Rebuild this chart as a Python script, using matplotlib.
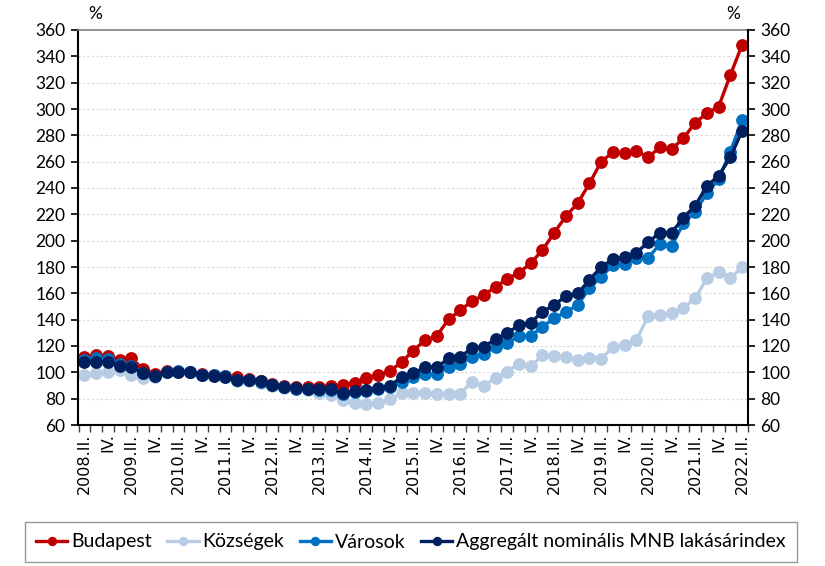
import matplotlib
matplotlib.use("Agg")
import matplotlib.pyplot as plt
from matplotlib.ticker import FixedLocator, NullFormatter

plt.rcParams['font.family'] = ['Lato', 'DejaVu Sans']

years = list(range(2008, 2023))
labels = []
for y in years:
    for q in ["I.", "II.", "III.", "IV."]:
        labels.append(f"{y}.{q}")
labels = labels[1:58]  # 2008.II. .. 2022.II.
tick_labels = [l if l.endswith(".II.") else ("IV." if l.endswith(".IV.") else "") for l in labels]

budapest = [111.9, 113.2, 112.4, 109.4, 110.6, 102.3, 99.0, 100.8, 100.5, 100.2, 98.5, 98.0, 97.4, 96.5,
            95.0, 93.5, 91.2, 89.6, 88.6, 88.6, 89.2, 89.8, 90.2, 92.2, 95.5, 98.0, 100.8, 107.8,
            116.5, 124.4, 127.6, 140.3, 147.0, 154.2, 158.5, 165.0, 170.9, 175.7, 182.8, 192.9, 206.0,
            218.7, 228.4, 243.5, 260.0, 267.1, 266.3, 268.3, 263.3, 270.9, 269.6, 277.7, 289.6, 296.7,
            301.8, 325.8, 348.8]
kozsegek = [98.3, 99.3, 100.3, 102.0, 98.0, 95.5, 96.2, 100.0, 100.2, 100.0, 97.8, 97.2, 96.5, 93.5,
            93.2, 92.0, 89.5, 87.8, 87.0, 86.5, 84.0, 83.0, 79.0, 76.5, 76.0, 77.0, 79.5, 84.0,
            84.5, 84.0, 83.8, 83.8, 83.8, 92.9, 89.8, 95.5, 100.5, 106.7, 104.5, 113.0, 112.4, 111.9,
            109.4, 111.2, 110.5, 119.0, 120.5, 124.5, 142.8, 143.5, 144.8, 149.1, 156.2, 171.4, 176.4,
            171.4, 180.0]
varosok = [109.5, 110.8, 110.0, 106.5, 105.0, 99.8, 97.4, 100.6, 100.9, 100.6, 97.9, 97.6, 97.0, 94.4,
           93.8, 92.9, 90.4, 89.0, 87.7, 87.1, 86.6, 86.7, 83.9, 85.2, 86.0, 87.5, 89.0, 92.9,
           96.7, 98.7, 98.7, 104.3, 106.3, 111.9, 113.9, 119.5, 122.0, 127.6, 127.6, 134.7, 141.0,
           146.0, 151.1, 163.8, 172.6, 181.5, 182.3, 187.1, 187.1, 197.2, 196.0, 213.1, 222.0, 236.0,
           246.8, 267.6, 291.6]
aggregalt = [107.5, 108.1, 107.5, 104.9, 103.8, 99.3, 97.2, 100.3, 100.5, 100.3, 97.8, 97.4, 96.8, 94.3,
             94.1, 93.1, 90.6, 89.1, 87.9, 87.6, 87.1, 87.2, 84.6, 85.5, 86.7, 88.2, 89.9,
             96.2, 99.3, 103.8, 103.8, 110.6, 111.9, 118.2, 119.5, 125.1, 129.6, 136.0, 137.7, 146.0,
             151.1, 158.0, 160.0, 170.1, 180.2, 185.8, 187.8, 190.9, 198.7, 206.1, 206.1, 217.4, 226.6,
             241.5, 249.3, 263.3, 283.5]

series_names = ["Budapest", "Községek", "Városok", "Aggregált nominális MNB lakásárindex"]
colors = ["#C00000", "#B8CCE4", "#0070C0", "#002060"]

x = list(range(len(labels)))

fig = plt.figure(figsize=(8.25, 5.66), dpi=100)
ax = fig.add_axes([78/825, 1-425/566, (748-78)/825, (425-30)/566])

for vals, name, c in zip([budapest, kozsegek, varosok, aggregalt], series_names, colors):
    ax.plot(x, vals, color=c, lw=2.4, marker='o', ms=8.2, mec=c, mfc=c, label=name,
            solid_joinstyle='round', clip_on=False)

ax.set_xlim(-0.55, 56.5)
ax.set_ylim(60, 360)
yt = list(range(60, 361, 20))
ax.set_yticks(yt)
ax.set_yticklabels([str(v) for v in yt], fontsize=12.5)
ax.yaxis.grid(True, color="#D9D9D9", ls=(0, (2, 2)), lw=0.8)
ax.set_axisbelow(True)

ax.set_xticks(x)
ax.set_xticklabels(tick_labels, rotation=90, fontsize=11.5, family=['DejaVu Sans'])
ax.tick_params(axis='x', which='major', length=0, pad=6)
ax.xaxis.set_minor_locator(FixedLocator([i - 0.5 for i in range(len(labels) + 1)]))
ax.xaxis.set_minor_formatter(NullFormatter())
ax.tick_params(axis='x', which='minor', length=5, width=1, color='#404040', direction='out')
ax.tick_params(axis='y', length=5, width=1.2, direction='out', pad=4)

for s in ['left', 'bottom']:
    ax.spines[s].set_color('black')
    ax.spines[s].set_linewidth(1.5)
ax.spines['top'].set_color('#808080')
ax.spines['top'].set_linewidth(1.2)
ax.spines['right'].set_visible(False)

ax2 = ax.twinx()
ax2.set_ylim(60, 360)
ax2.set_yticks(yt)
ax2.set_yticklabels([str(v) for v in yt], fontsize=12.5)
ax2.tick_params(axis='y', length=5, width=1.2, direction='out', pad=4)
for s in ['left', 'bottom', 'top']:
    ax2.spines[s].set_visible(False)
ax2.spines['right'].set_color('black')
ax2.spines['right'].set_linewidth(1.5)

fig.text(95/825, 1-14/566, "%", ha='center', va='center', fontsize=12.5)
fig.text(733/825, 1-14/566, "%", ha='center', va='center', fontsize=12.5)

handles, lbls = ax.get_legend_handles_labels()
leg = fig.legend(handles, lbls, loc='center', bbox_to_anchor=(411/825, 1-542/566), ncol=4,
                 fontsize=14, frameon=True, fancybox=False, edgecolor='#808080',
                 handlelength=1.6, handletextpad=0.2, columnspacing=0.8, borderpad=0.6,
                 markerscale=0.7)
leg.get_frame().set_linewidth(1.0)

fig.savefig("out.png", dpi=100)
